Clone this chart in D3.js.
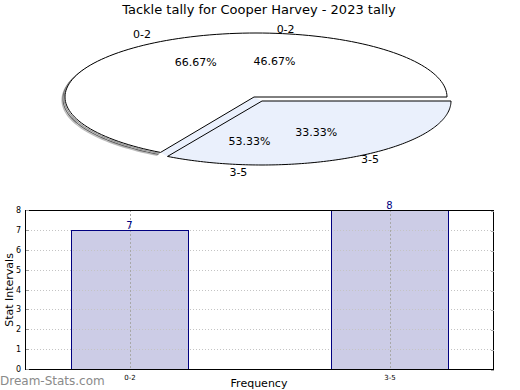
<!DOCTYPE html>
<html><head><meta charset="utf-8">
<script src="https://cdn.jsdelivr.net/npm/d3@7"></script>
<style>body{margin:0;background:#fff}svg{display:block}text{font-family:"DejaVu Sans",sans-serif}</style>
</head><body><svg id="c" width="520" height="390"></svg>
<script>
const title = "Tackle tally for Cooper Harvey - 2023 tally";
const categories = ["0-2", "3-5"];
const pieValues = [10, 5];          // drawn pie: 66.67% / 33.33%
const barValues = [7, 8];           // bar chart + second label set: 46.67% / 53.33%
const yTicks = [0, 1, 2, 3, 4, 5, 6, 7, 8];
const sliceColors = ["#ffffff", "#eaf0fc"];

const svg = d3.select("#c");
svg.append("rect").attr("width", 520).attr("height", 390).attr("fill", "#fff");

svg.append("text").attr("x", 259).attr("y", 14).attr("text-anchor", "middle")
  .attr("font-size", 13).text(title);

// ---------- 3D-style pie ----------
const pieGen = d3.pie().sort(null).startAngle(0).endAngle(2 * Math.PI);
const arcsA = pieGen(pieValues);
const arcsB = pieGen(barValues);
const geoA = {cx: 256, cy: 97, rx: 191, ry: 64, apexX: 254};
const geoB = {cx: 262, cy: 101, rx: 189, ry: 64, apexX: 262};
const pt = (g, a, r = 1) => [g.cx + r * g.rx * Math.cos(a), g.cy - r * g.ry * Math.sin(a)];
const ptOut = (g, a) => [g.cx + (g.rx + 37) * Math.cos(a), g.cy - (g.ry + 8) * Math.sin(a)];

function arcPts(g, a0, a1, dx = 0, dy = 0) {
  const n = 120, out = [];
  for (let i = 0; i <= n; i++) {
    const a = a0 + (a1 - a0) * i / n;
    const p = pt(g, a);
    out.push([p[0] + dx, p[1] + dy]);
  }
  return out;
}
function sectorPath(g, a0, a1) {
  const pts = arcPts(g, a0, a1);
  return "M" + g.apexX + "," + g.cy + "L" + pts.map(p => p.join(",")).join("L") + "Z";
}
const line = d3.line();

const pieG = svg.append("g");
const white = arcsA[0], blue = arcsA[1];

// rim (3D thickness) of the white slice
[[-3, 3, "#bbbbbb"], [-2, 2, "#666666"], [-1, 1, "#999999"]].forEach(([dx, dy, c]) => {
  pieG.append("path").attr("d", line(arcPts(geoA, white.startAngle + 0.3, white.endAngle, dx, dy)))
    .attr("fill", "none").attr("stroke", c).attr("stroke-width", 1.2);
});

// side face of blue slice along its leading edge
const pA = pt(geoA, blue.startAngle), pB = pt(geoB, blue.startAngle);
pieG.append("path")
  .attr("d", line([[geoA.apexX, geoA.cy], pA, pB, [geoB.apexX, geoB.cy]]) + "Z")
  .attr("fill", sliceColors[1]).attr("stroke", "none");

// white slice
pieG.append("path").attr("d", sectorPath(geoA, white.startAngle, white.endAngle))
  .attr("fill", sliceColors[0]).attr("stroke", "#000").attr("stroke-width", 1);
// blue slice
pieG.append("path").attr("d", sectorPath(geoB, blue.startAngle, blue.endAngle))
  .attr("fill", sliceColors[1]).attr("stroke", "#000").attr("stroke-width", 1);

// labels
function pieLabels(arcs, g, total) {
  arcs.forEach((d, i) => {
    const mid = (d.startAngle + d.endAngle) / 2;
    const pp = pt(g, mid, 0.63);
    pieG.append("text").attr("x", pp[0]).attr("y", pp[1]).attr("dy", "0.35em")
      .attr("text-anchor", "middle").attr("font-size", 11)
      .text((100 * d.data / total).toFixed(2) + "%");
    const pc = ptOut(g, mid);
    pieG.append("text").attr("x", pc[0]).attr("y", pc[1]).attr("dy", "0.35em")
      .attr("text-anchor", "middle").attr("font-size", 11).text(categories[i]);
  });
}
pieLabels(arcsA, geoA, d3.sum(pieValues));
pieLabels(arcsB, geoB, d3.sum(barValues));

// ---------- bar chart ----------
const plot = {l: 25, r: 493, t: 210, b: 369};
const y = d3.scaleLinear().domain([0, 8]).range([plot.b, plot.t]);
const x = d3.scalePoint().domain(categories).range([129.5, 389.5]);
const barW = 117;
const bg = svg.append("g");
const gridTicks = yTicks.filter(t => t > 0 && t < 8);

// bar fills
bg.selectAll(".barf").data(barValues).join("rect")
  .attr("x", (d, i) => x(categories[i]) - barW / 2 + 0.5)
  .attr("y", d => Math.round(y(d)) + 0.5)
  .attr("width", barW)
  .attr("height", d => y(0) - Math.round(y(d)))
  .attr("fill", "#ccccE6");

// horizontal grid
bg.selectAll(".hg").data(gridTicks).join("line")
  .attr("x1", plot.l).attr("x2", plot.r)
  .attr("y1", d => Math.round(y(d)) + 0.5).attr("y2", d => Math.round(y(d)) + 0.5)
  .attr("stroke", "#c4c4c4").attr("stroke-dasharray", "1,2");

// vertical grid
bg.selectAll(".vg").data(categories).join("line")
  .attr("x1", d => Math.round(x(d)) + 0.5).attr("x2", d => Math.round(x(d)) + 0.5)
  .attr("y1", plot.t).attr("y2", plot.b)
  .attr("stroke", "#a8a8a8").attr("stroke-dasharray", "2,2");

// bar outlines
bg.selectAll(".baro").data(barValues).join("rect")
  .attr("x", (d, i) => x(categories[i]) - barW / 2 + 0.5)
  .attr("y", d => Math.round(y(d)) + 0.5)
  .attr("width", barW)
  .attr("height", d => y(0) - Math.round(y(d)))
  .attr("fill", "none").attr("stroke", "#000080").attr("stroke-width", 1);

// frame
bg.append("rect").attr("x", plot.l + 0.5).attr("y", plot.t + 0.5)
  .attr("width", plot.r - plot.l).attr("height", plot.b - plot.t)
  .attr("fill", "none").attr("stroke", "#000").attr("stroke-width", 1);

// y axis
const yAxis = d3.axisLeft(y).tickValues(yTicks).tickSize(0).tickPadding(4);
const ya = bg.append("g").attr("transform", `translate(${plot.l},0)`).call(yAxis);
ya.select(".domain").remove();
ya.selectAll("text").attr("font-size", 8).attr("font-family", "DejaVu Sans, sans-serif").attr("fill", "#000");
bg.selectAll(".ytl").data(yTicks).join("line")
  .attr("x1", plot.l + 1).attr("x2", plot.l + 4)
  .attr("y1", d => Math.round(y(d)) + 0.5).attr("y2", d => Math.round(y(d)) + 0.5)
  .attr("stroke", "#999");
bg.selectAll(".ytr").data(yTicks).join("line")
  .attr("x1", plot.r - 2).attr("x2", plot.r + 1)
  .attr("y1", d => Math.round(y(d)) + 1.5).attr("y2", d => Math.round(y(d)) + 1.5)
  .attr("stroke", "#aaa");

// x axis
const xAxis = d3.axisBottom(x).tickSize(0).tickPadding(6);
const xa = bg.append("g").attr("transform", `translate(0,${plot.b})`).call(xAxis);
xa.select(".domain").remove();
xa.selectAll("text").attr("font-size", 7).attr("font-family", "DejaVu Sans, sans-serif").attr("fill", "#000");

// value labels
bg.selectAll(".vl").data(barValues).join("text")
  .attr("x", (d, i) => x(categories[i]))
  .attr("y", d => y(d) - 1)
  .attr("text-anchor", "middle").attr("font-size", 10).attr("fill", "#000080")
  .text(d => d);

// axis titles
svg.append("text").attr("transform", "translate(13,290) rotate(-90)")
  .attr("text-anchor", "middle").attr("font-size", 11).text("Stat Intervals");
svg.append("text").attr("x", 259).attr("y", 387).attr("text-anchor", "middle")
  .attr("font-size", 11).text("Frequency");

// watermark
svg.append("text").attr("x", 0).attr("y", 385).attr("font-size", 12)
  .attr("fill", "#8a8a8a").text("Dream-Stats.com");
</script></body></html>
